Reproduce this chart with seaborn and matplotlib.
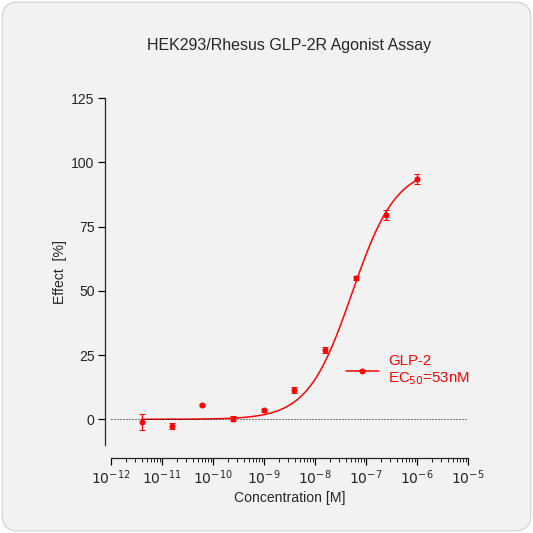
import numpy as np
import matplotlib
matplotlib.use("Agg")
import matplotlib.pyplot as plt
import seaborn as sns
from matplotlib.patches import FancyBboxPatch

conc = [4e-12, 1.6e-11, 6.2e-11, 2.45e-10, 9.8e-10, 3.9e-9, 1.56e-8, 6.25e-8, 2.5e-7, 1e-6]
effect = [-1.0, -2.5, 5.5, 0.2, 3.5, 11.5, 27.0, 55.0, 79.5, 93.5]
err = [3.0, 1.2, 0.5, 1.0, 0.5, 1.2, 1.2, 0.8, 1.8, 2.0]
ec50 = 5.3e-8
bottom, top, hill = 0.0, 98.0, 1.0

sns.set_theme(style="ticks")
plt.rcParams['font.family'] = ['Liberation Sans', 'DejaVu Sans']
fig = plt.figure(figsize=(533/72, 533/72), dpi=72)
fig.patch.set_facecolor("white")
bg = FancyBboxPatch((0.004, 0.004), 0.992, 0.992, boxstyle="round,pad=0,rounding_size=0.03",
                    transform=fig.transFigure, facecolor="#f2f2f2", edgecolor="#cccccc", lw=1, zorder=-10)
fig.patches.append(bg)
ax = fig.add_axes([111/533, 88/533, 357/533, 347/533])
ax.set_facecolor("none")
ax.set_zorder(5)
red = "#ff0000"
xs = np.logspace(np.log10(conc[0]), np.log10(conc[-1]), 300)
ys = bottom + (top - bottom) / (1 + (ec50 / xs) ** hill)
sns.lineplot(x=xs, y=ys, ax=ax, color=red, lw=1.5)
ax.errorbar(conc, effect, yerr=err, fmt="o", color=red, ms=5, capsize=3, lw=1.2)
ax.axhline(0, color="black", ls=(0, (1, 2)), lw=1)
ax.set_xscale("log")
ax.set_xlim(1e-12, 1e-5)
ax.set_ylim(-10, 125)
ax.set_yticks([0, 25, 50, 75, 100, 125])
ax.set_xticks([10.0**k for k in range(-12, -4)])
ax.set_xticklabels([f"$10^{{{k}}}$" for k in range(-12, -4)])
ax.spines['top'].set_visible(False)
ax.spines['right'].set_visible(False)
ax.spines['left'].set_position(('outward', 6))
ax.spines['bottom'].set_position(('outward', 13))
ax.spines['left'].set_bounds(-10, 125)
ax.tick_params(axis='both', labelsize=14, color='black', width=1.2, length=7)
ax.tick_params(axis='x', which='minor', length=4, width=1)
ax.set_xlabel("Concentration [M]", fontsize=14)
ax.set_ylabel("Effect  [%]", fontsize=14)
ax.plot([], [], "o-", color=red, ms=5, label="GLP-2\nEC$_{50}$=53nM")
leg = ax.legend(loc="upper left", bbox_to_anchor=(0.62, 0.3), frameon=False, fontsize=15,
                handlelength=2.2, handletextpad=0.6)
for t in leg.get_texts():
    t.set_color(red)
ax.set_title("HEK293/Rhesus GLP-2R Agonist Assay", fontsize=16, pad=48, x=0.5)
fig.savefig("out.png", dpi=72, facecolor="white")
